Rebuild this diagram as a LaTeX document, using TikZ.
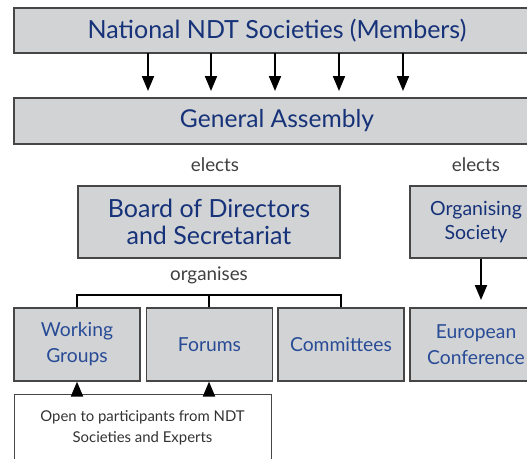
\documentclass[tikz,border=0pt]{standalone}
\usepackage{fontspec}
\setmainfont{Lato}
\usetikzlibrary{arrows.meta, positioning}
\definecolor{boxgrey}{RGB}{210,211,213}
\definecolor{edgegrey}{RGB}{70,70,70}
\definecolor{navy}{RGB}{22,50,120}
\definecolor{midblue}{RGB}{40,75,150}
\begin{document}
\begin{tikzpicture}[x=1pt, y=-1pt,
    greybox/.style={draw=edgegrey, line width=1.2pt, fill=boxgrey, inner sep=0pt, align=center},
    unitbox/.style={greybox, minimum width=126pt, minimum height=73pt, text=midblue, font=\fontsize{19.3}{26}\selectfont},
    note/.style={font=\fontsize{18.8}{22}\selectfont, text=black!75},
    flow/.style={line width=2pt, -{Triangle[width=12pt, length=15pt]}}]
    \useasboundingbox (0,0) rectangle (527,458);
    \clip (0,0) rectangle (527,458);
    % Members and assembly
    \node[greybox, minimum width=526pt, minimum height=45pt, text=navy, font=\fontsize{25}{30}\selectfont] (members) at (277,30.5) {National NDT Societies (Members)};
    \node[greybox, minimum width=526pt, minimum height=46pt, text=navy, font=\fontsize{24.6}{30}\selectfont] (assembly) at (277,121) {General Assembly};
    \foreach \x in {148,211,275,339,403}
        \draw[flow] (\x,53) -- (\x,91);
    % Elected bodies
    \node[note] (elects1) at (215,165) {elects};
    \node[note] (elects2) at (476,165) {elects};
    \node[greybox, minimum width=262pt, minimum height=72pt, text=navy, font=\fontsize{25}{27}\selectfont] (board) at (209,222) {Board of Directors\\and Secretariat};
    \node[greybox, minimum width=132pt, minimum height=72pt, text=navy, font=\fontsize{19.5}{24}\selectfont] (organiser) at (476,222) {Organising\\Society};
    \node[note] (organises) at (209,275) {organises};
    % Bodies organised
    \node[unitbox] (groups) at (77,344.5) {Working\\Groups};
    \node[unitbox] (forums) at (209.5,344.5) {Forums};
    \node[unitbox] (committees) at (341,344.5) {Committees};
    \node[unitbox, minimum width=132pt] (conference) at (476,344.5) {European\\Conference};
    \draw[line width=2pt] (groups.north) -- (77,295) -- (341,295) -- (committees.north);
    \draw[line width=2pt] (forums.north -| board.south) -- (209,295);
    \draw[flow] (organiser.south -| 481,0) -- (481,300);
    % Participants
    \node[draw=edgegrey, line width=1pt, fill=white, minimum width=257pt, minimum height=68pt, align=center, font=\fontsize{14.9}{21}\selectfont, text=black!80] (open) at (142.5,428) {Open to participants from NDT\\Societies and Experts};
    \draw[flow] (open.north -| groups) -- (groups.south);
    \draw[flow] (open.north -| board) -- (forums.south -| board);
\end{tikzpicture}
\end{document}
